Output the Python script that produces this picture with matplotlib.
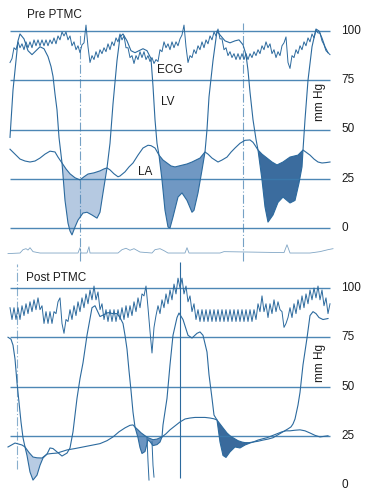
import numpy as np
import matplotlib
matplotlib.use("Agg")
import matplotlib.pyplot as plt

plt.rcParams['font.family'] = ['Liberation Sans', 'DejaVu Sans']

# ---------------- data (time in arbitrary units, pressure in mm Hg) -------------
ticks = [0, 25, 50, 75, 100]
tick_labels = ["0", "25", "50", "75", "100"]

# Pre PTMC
pre_lv_t = [10, 13, 15, 18, 20, 24, 28, 32, 36, 40, 44, 48, 51, 53, 55, 57, 59, 62, 65, 68, 70, 72, 75, 78, 83, 87,
            92, 97, 100, 103, 107, 110, 113, 117, 120, 123, 127, 131, 135, 139, 143, 147, 151, 153, 155, 157, 159,
            162, 165, 168, 170, 173, 178, 182, 187, 192, 194, 198, 202, 205, 207, 209, 213, 217, 220, 225, 230, 235,
            239, 243, 246, 248, 250, 253, 256, 258, 262, 265, 268, 273, 278, 283, 290, 295, 299, 302, 303, 305, 308,
            312, 316, 319, 322, 325, 328]
pre_lv_p = [46, 70, 80, 95, 98.5, 96, 90, 88, 90, 92, 91, 87, 82, 77, 68, 60, 46, 33, 14, 2.5, -1.5, -3.5, 0.5, 4, 7.6, 8,
            6.6, 5, 8, 17.8, 30.5, 43, 63, 85, 97, 98.5, 95, 90, 89, 90, 91, 90, 86, 72, 55, 43, 37,
            24.4, 9, 0.5, 0, 5.6, 15.7, 17.8, 14, 8, 9, 17.8, 29.4, 38.6, 50, 66.5, 85, 100, 98, 95, 94, 95,
            95.5, 93, 88, 80, 69, 55, 45, 39.6, 24.4, 10.7, 3, 6.6, 13, 15.7, 12.7, 14, 22.8, 31, 39.6, 55, 75,
            92, 101, 100, 96.4, 92, 89]
pre_la_t = [10, 15, 20, 25, 30, 35, 40, 45, 50, 55, 58, 62, 66, 70, 75, 80, 84, 88, 94, 100, 104, 107, 110, 114, 118,
            120, 125, 129, 133, 138, 143, 148, 151, 155, 159, 163, 167, 171, 175, 179, 183, 187, 192, 196, 200, 205,
            208, 212, 218, 222, 227, 231, 235, 240, 245, 250, 253, 255, 258, 262, 267, 272, 277, 283, 290, 298, 303,
            306, 310, 314, 318, 322, 326, 330]
pre_la_p = [40, 37.5, 35, 34, 33.5, 34, 35.5, 37.5, 39, 38.6, 36, 33, 30, 27.5, 25.5, 24.4, 26, 27.4, 28, 29, 30, 30.5,
            29.5, 27.5, 26, 26.4, 28.5, 31, 33, 37, 40.6, 42, 41.8, 40.6, 37, 34.5, 33, 31.5, 31, 31.5, 32, 32.5,
            33.5, 34.5, 35.5, 38.6, 37.5, 35.5, 33.5, 34.5, 36, 38.5, 40.6, 43, 44.5, 44.7, 43.5, 42, 39.6, 37.5,
            35.5, 33.5, 32, 33.5, 36, 37, 39.6, 38.5, 37, 35, 33.5, 33, 33.2, 33.5]
pre_fills = [(62, 107), (159, 205), (258, 303)]

pre_ecg_t = list(range(10, 331, 2))
pre_ecg_p = [84, 86, 91.5, 90.5, 94.5, 91.5, 93.5, 90.5, 94.5, 91.5, 94.5, 91.5, 95.5, 92.5, 95.5, 92.5, 95.5, 92.5,
             95.5, 92.5, 95.5, 93.5, 96.5, 93.5, 97.5, 95.5, 99.5, 97.5, 99.5, 95.5, 97.5, 92.5, 94.5, 90.5, 92.5,
             89, 93, 94, 103, 92, 84, 87.5, 85.5, 89.5, 86.5, 90.5, 88.5, 91.5, 89.5, 93.5, 90.5, 94.5, 92.5, 96.5,
             94.5, 98.5, 95.5, 97.5, 91.5, 91.5, 86.5, 87.5, 83.5, 87.5, 85.5, 89.5, 86.5, 89.5, 85.5, 87.5, 84.5,
             86.5, 83.5, 85.5, 84.5, 90.5, 89.5, 94.5, 91.5, 93.5, 90.5, 94.5, 91.5, 94.5, 92.5, 96, 98, 103, 92,
             84, 87.5, 86.5, 90.5, 88.5, 92.5, 90.5, 94.5, 91.5, 95.5, 93.5, 97.5, 95.5, 99.5, 97.5, 101, 96, 96,
             90.5, 91.5, 87.5, 89.5, 86.5, 88.5, 85.5, 88.5, 85.5, 88.5, 85.5, 88.5, 85.5, 88.5, 86.5, 89.5, 87.5,
             90.5, 88.5, 92.5, 90.5, 94.5, 91.5, 93.5, 88.5, 90.5, 86.5, 89.5, 87.5, 92.5, 94, 97, 84, 81, 87.5,
             86.5, 90.5, 88.5, 92.5, 90.5, 94.5, 92.5, 96.5, 94.5, 98.5, 96.5, 100.5, 99, 99, 95, 93, 90, 89, 88]

pre_strip_t = [8, 20, 23, 26, 28, 30, 33, 40, 78, 80, 81, 87, 89, 90, 118, 122, 126, 130, 134, 140, 152, 155, 160,
               164, 168, 185, 187, 189, 220, 224, 260, 284, 287, 290, 310, 320, 328, 333]
pre_strip_p = [-13, -12.7, -11, -10.5, -11.2, -10, -12, -12.7, -12.7, -10, -12.7, -12.7, -9.5, -12.7, -12.7, -11,
               -10.3, -11.3, -10.5, -12.2, -12.7, -11, -10.5, -11.5, -12.7, -12.7, -10, -12.7, -12.7, -12, -12.3,
               -12.5, -8.5, -12.7, -12.7, -12, -11, -10.5]

# Post PTMC
post_lv_t = [8, 11, 13, 15, 17, 19, 21, 23, 25, 27, 30, 33, 37, 40, 43, 47, 50, 53, 57, 62, 67, 70, 73, 77, 80, 83,
             87, 92, 95, 100, 104, 108, 113, 117, 120, 123, 125, 127, 129, 131, 133, 135, 138, 140, 142, 145, 148,
             150, 153, 157, 160, 162, 163, 167, 170, 173, 177, 179, 183, 188, 192, 197, 200, 203, 207, 209, 212, 214,
             217, 220, 223, 226, 230, 235, 240, 245, 250, 253, 258, 263, 268, 273, 278, 283, 288, 291, 293, 295, 298,
             300, 303, 307, 310, 313, 316, 319, 323, 328]
post_lv_p = [75, 74, 71, 64, 52, 42, 32, 24, 19.3, 15, 6.6, 2.5, 5, 10, 13.7, 15.7, 18.8, 18.5, 16.8, 14.7, 16.2,
             18.8, 27, 44, 54, 62, 76, 90, 91, 85.5, 86.5, 87.5, 87, 87, 85, 82, 76, 69, 58, 48, 37, 29.4, 24, 19,
             16, 17, 23, 22, 20, 20.5, 21.8, 24.4, 30.5, 44, 61, 76, 85, 87.3, 84, 76, 74.6, 77, 77.7, 76, 67.5, 56,
             44, 35.5, 33, 21.8, 15, 14, 16.8, 19.3, 18.8, 20.3, 21.3, 21.8, 22.2, 22.8, 23.3, 24, 25.5, 27, 28.5,
             29.5, 31, 33.5, 40.6, 47, 61, 74.6, 86, 88, 87, 85, 84, 84.5]
post_la_t = [8, 15, 22, 25, 29, 33, 37, 42, 47, 52, 57, 62, 67, 75, 83, 92, 100, 107, 113, 119, 125, 130, 133, 135, 138,
             141, 145, 148, 153, 157, 160, 162, 166, 170, 175, 180, 185, 190, 195, 200, 205, 210, 214, 217, 220, 223,
             227, 230, 233, 238, 242, 245, 249, 253, 258, 263, 267, 272, 277, 282, 286, 290, 295, 300, 305, 310, 315,
             320, 324, 328]
post_la_p = [19.3, 21.3, 20.3, 19.3, 16.5, 14.2, 13.8, 13.7, 15.7, 16, 16.2, 17, 17.8, 18.5, 19.3, 20.2, 21, 22.5,
             24.4, 27, 29, 30.3, 30.5, 29.4, 28, 26.5, 25, 24, 23, 23.3, 24, 24.4, 26, 28, 30, 32, 33.5, 34, 34.3,
             34.3, 34.3, 34, 33.6, 33, 31, 29, 26.4, 25, 24, 22.5, 21.8, 21.5, 21.5, 21.8, 22.8, 23.5, 24, 25, 26,
             27, 27.5, 27.5, 27.8, 28, 27.5, 26.4, 25.2, 24.4, 24.7, 25]
post_fills = [(25, 47), (135, 162), (217, 253)]
post_spike_t = [[147, 148, 149], [152, 153, 154]]
post_spike_p = [[24, 12, 2.5], [22, 10, 4]]

post_ecg_t = list(range(10, 331, 2))
post_ecg_p = [90, 84, 90, 84, 90, 84, 91, 86, 92, 87, 93, 88, 94, 89, 95, 89, 91, 82, 88, 82, 88, 82, 88, 87, 93, 95,
              82, 77, 84, 83, 89, 84, 91, 86, 93, 88, 95, 90, 97, 92, 99, 94, 101, 94, 98, 89, 92, 84, 89, 83, 89,
              83, 89, 83, 89, 84, 90, 84, 91, 85, 91, 86, 93, 88, 95, 90, 97, 96, 101, 90, 78, 67, 80, 86, 91, 87,
              94, 90, 97, 92, 99, 94, 102, 97, 105, 100, 105, 97, 101, 93, 96, 88, 92, 84, 89, 83, 89, 83, 89, 83,
              89, 83, 89, 83, 89, 83, 89, 83, 89, 83, 89, 83, 89, 83, 89, 83, 89, 83, 89, 83, 89, 83, 89, 84, 92,
              88, 96, 88, 92, 85, 92, 87, 94, 88, 93, 89, 88, 80, 82, 85, 90, 85, 92, 87, 94, 89, 96, 90, 97, 92,
              99, 94, 100, 95, 101, 94, 99, 91, 95, 87, 92]

# ---------------- style ----------------
LINE = '#2c6a9e'
GRID = '#3a7aad'
TXT = '#1c1c1c'
pre_colors = ['#b5c9e1', '#7098c3', '#3b6c9e']
post_colors = ['#b7cbe3', '#6c95c1', '#3a6a9c']
SCALE = 1.97  # px per mm Hg

W, H = 367, 493
fig = plt.figure(figsize=(W / 100, H / 100), dpi=100)

# top axes covers pixel rows 0..262, zero line at row 228
ax1 = fig.add_axes([0, (H - 262) / H, 1, 262 / H])
ax1.set_xlim(0, W)
ax1.set_ylim((228 - 262) / SCALE, 228 / SCALE)
# bottom axes covers pixel rows 262..493, zero at row 485
ax2 = fig.add_axes([0, 0, 1, 231 / H])
ax2.set_xlim(0, W)
ax2.set_ylim((485 - 493) / SCALE, (485 - 262) / SCALE)
for ax in (ax1, ax2):
    ax.axis('off')
    ax.patch.set_alpha(0)


def fill_between_curves(ax, la_t, la_p, lv_t, lv_p, rng, color):
    t0, t1 = rng
    top = [(t, p) for t, p in zip(la_t, la_p) if t0 <= t <= t1]
    bot = [(t, p) for t, p in zip(lv_t, lv_p) if t0 <= t <= t1][::-1]
    poly = np.array(top + bot)
    ax.fill(poly[:, 0], poly[:, 1], color=color, lw=0, zorder=1)


# ---- top panel ----
for rng, c in zip(pre_fills, pre_colors):
    fill_between_curves(ax1, pre_la_t, pre_la_p, pre_lv_t, pre_lv_p, rng, c)
ax1.hlines(ticks, 10, 330, color=GRID, lw=1.0, zorder=2, alpha=0.9)
ax1.vlines([80], -17, 99, color=GRID, lw=0.8, linestyles=(0, (8, 2, 1, 2)), alpha=0.7, zorder=2)
ax1.vlines([243], -17, 104, color=GRID, lw=0.8, linestyles=(0, (8, 2, 1, 2)), alpha=0.7, zorder=2)
ax1.plot(pre_lv_t, pre_lv_p, color=LINE, lw=0.8, zorder=3)
ax1.plot(pre_la_t, pre_la_p, color=LINE, lw=0.8, zorder=3)
ax1.plot(pre_ecg_t, pre_ecg_p, color=LINE, lw=0.7, zorder=3)
ax1.plot(pre_strip_t, pre_strip_p, color=LINE, lw=0.6, alpha=0.6, zorder=3)
for v, s in zip(ticks, tick_labels):
    ax1.text(341, v, s, ha='left', va='center', fontsize=8.5, color=TXT)
ax1.text(27, 108, "Pre PTMC", ha='left', va='center', fontsize=8.5, color=TXT)
ax1.text(170, 80, "ECG", ha='center', va='center', fontsize=8.5, color=TXT)
ax1.text(168, 64, "LV", ha='center', va='center', fontsize=8.5, color=TXT)
ax1.text(145, 28.5, "LA", ha='center', va='center', fontsize=8.5, color=TXT)
ax1.text(320, 64, "mm Hg", ha='center', va='center', rotation=90, fontsize=8.5, color=TXT)

# ---- bottom panel ----
for rng, c in zip(post_fills, post_colors):
    fill_between_curves(ax2, post_la_t, post_la_p, post_lv_t, post_lv_p, rng, c)
ax2.hlines(ticks[1:], 10, 330, color=GRID, lw=1.0, zorder=2, alpha=0.9)
ax2.vlines([17], 8, 112, color=GRID, lw=0.8, linestyles=(0, (8, 2, 1, 2)), alpha=0.6, zorder=2)
ax2.vlines([180], 3.5, 113, color=LINE, lw=0.8, zorder=2)
ax2.plot(post_lv_t, post_lv_p, color=LINE, lw=0.8, zorder=3)
ax2.plot(post_la_t, post_la_p, color=LINE, lw=0.8, zorder=3)
for st, sp in zip(post_spike_t, post_spike_p):
    ax2.plot(st, sp, color=LINE, lw=0.7, zorder=3)
ax2.plot(post_ecg_t, post_ecg_p, color=LINE, lw=0.7, zorder=3)
for v, s in zip(ticks, tick_labels):
    ax2.text(341, v, s, ha='left', va='center', fontsize=8.5, color=TXT)
ax2.text(26, 105, "Post PTMC", ha='left', va='center', fontsize=8.5, color=TXT)
ax2.text(320, 62, "mm Hg", ha='center', va='center', rotation=90, fontsize=8.5, color=TXT)

fig.savefig("out.png", dpi=100)
